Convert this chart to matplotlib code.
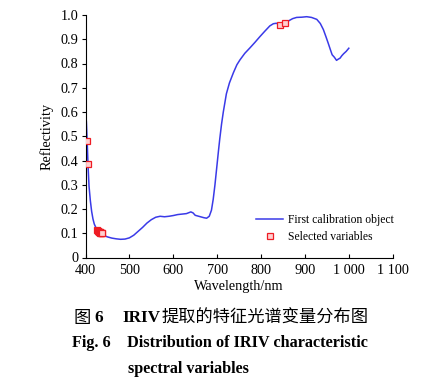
import matplotlib
matplotlib.use("Agg")
import matplotlib.pyplot as plt
import numpy as np

wavelength = [400, 402, 404, 406, 408, 411, 414, 417, 420, 425, 430, 435, 440, 450, 460, 470,
              480, 490, 500, 510, 520, 530, 540, 550, 560, 570, 580, 590, 600, 610, 620, 630,
              640, 645, 650, 660, 670, 676, 682, 687, 691, 695, 699, 703, 706, 710, 714, 721,
              728, 737, 745, 752, 763, 775, 786, 797, 808, 820, 828, 835, 843, 848, 854, 862,
              872, 881, 893, 904, 915, 927, 935, 942, 948, 953, 958, 962, 967, 972, 976, 980,
              984, 988, 994, 1000]
reflectivity = [0.600, 0.560, 0.470, 0.370, 0.295, 0.235, 0.190, 0.159, 0.138, 0.118, 0.106, 0.100,
                0.092, 0.085, 0.080, 0.077, 0.075, 0.076, 0.081, 0.092, 0.108, 0.124, 0.142, 0.156,
                0.166, 0.170, 0.168, 0.170, 0.173, 0.177, 0.179, 0.181, 0.188, 0.184, 0.174, 0.169,
                0.164, 0.162, 0.170, 0.195, 0.240, 0.300, 0.370, 0.440, 0.490, 0.550, 0.600, 0.675,
                0.720, 0.762, 0.795, 0.815, 0.842, 0.865, 0.887, 0.910, 0.932, 0.955, 0.964, 0.966,
                0.959, 0.962, 0.968, 0.975, 0.985, 0.990, 0.991, 0.993, 0.990, 0.982, 0.965, 0.940,
                0.910, 0.884, 0.857, 0.836, 0.826, 0.813, 0.818, 0.822, 0.832, 0.840, 0.850, 0.863]

sel_wavelength = [403, 406, 427, 428, 429, 430, 431, 432, 433, 434, 435, 436, 437, 438, 843, 855]
sel_reflectivity = [0.482, 0.385, 0.112, 0.110, 0.108, 0.107, 0.106, 0.105, 0.104, 0.103, 0.102,
                    0.101, 0.100, 0.099, 0.959, 0.968]

xticks = [400, 500, 600, 700, 800, 900, 1000, 1100]
xticklabels = ["400", "500", "600", "700", "800", "900", "1 000", "1 100"]
yticks = [0, 0.1, 0.2, 0.3, 0.4, 0.5, 0.6, 0.7, 0.8, 0.9, 1.0]
yticklabels = ["0", "0.1", "0.2", "0.3", "0.4", "0.5", "0.6", "0.7", "0.8", "0.9", "1.0"]

W, H = 431, 388
fig = plt.figure(figsize=(W / 100, H / 100), dpi=100)
ax = fig.add_axes([85.5 / W, 1 - 257.5 / H, (392.7 - 85.5) / W, (257.5 - 15) / H])

serif = ["Liberation Serif", "DejaVu Serif"]
cjk = ["Noto Sans CJK SC", "DejaVu Sans"]
ax.plot(wavelength, reflectivity, color="#3a3ae8", lw=1.1, label="First calibration object", zorder=2)
ax.plot(sel_wavelength, sel_reflectivity, ls="none", marker="s", ms=4.0, mfc="#ffd0d0",
        mec="#ee1c24", mew=0.9, label="Selected variables", zorder=3)

ax.set_xlim(400, 1100)
ax.set_ylim(0, 1.0)
ax.set_xticks(xticks)
ax.set_xticklabels(xticklabels, fontfamily=serif, fontsize=10.3)
ax.set_yticks(yticks)
ax.set_yticklabels(yticklabels, fontfamily=serif, fontsize=10.3)
ax.tick_params(axis="x", direction="in", length=3, width=0.8, pad=5)
ax.tick_params(axis="y", direction="out", length=3, width=0.8, pad=2)
for s in ["top", "right"]:
    ax.spines[s].set_visible(False)
for s in ["left", "bottom"]:
    ax.spines[s].set_linewidth(0.8)

ax.set_xlabel("Wavelength/nm", fontfamily=serif, fontsize=10.3, labelpad=2)
ax.set_ylabel("Reflectivity", fontfamily=serif, fontsize=10.3, labelpad=5)

leg = ax.legend(loc="lower right", bbox_to_anchor=(1.02, 0.04), frameon=False,
                prop={"family": serif, "size": 8.4}, handlelength=2.3, handletextpad=0.45,
                labelspacing=0.4, borderaxespad=0)

y1 = 1 - 318 / H
fig.text(74 / W, y1, "图", ha="left", va="center", fontsize=12.4, family=cjk)
fig.text(94 / W, y1, "6", ha="left", va="center", fontsize=12.4, family=serif, fontweight="bold")
fig.text(122 / W, y1, "IRIV", ha="left", va="center", fontsize=12.4, family=serif, fontweight="bold")
fig.text(162 / W, y1, "提取的特征光谱变量分布图", ha="left", va="center", fontsize=12.4, family=cjk)
fig.text(72 / W, 1 - 343 / H, "Fig. 6    Distribution of IRIV characteristic", ha="left", va="center",
         fontsize=11.7, family=serif, fontweight="bold")
fig.text(128 / W, 1 - 369 / H, "spectral variables", ha="left", va="center",
         fontsize=11.6, family=serif, fontweight="bold")

fig.savefig("out.png", dpi=100)
